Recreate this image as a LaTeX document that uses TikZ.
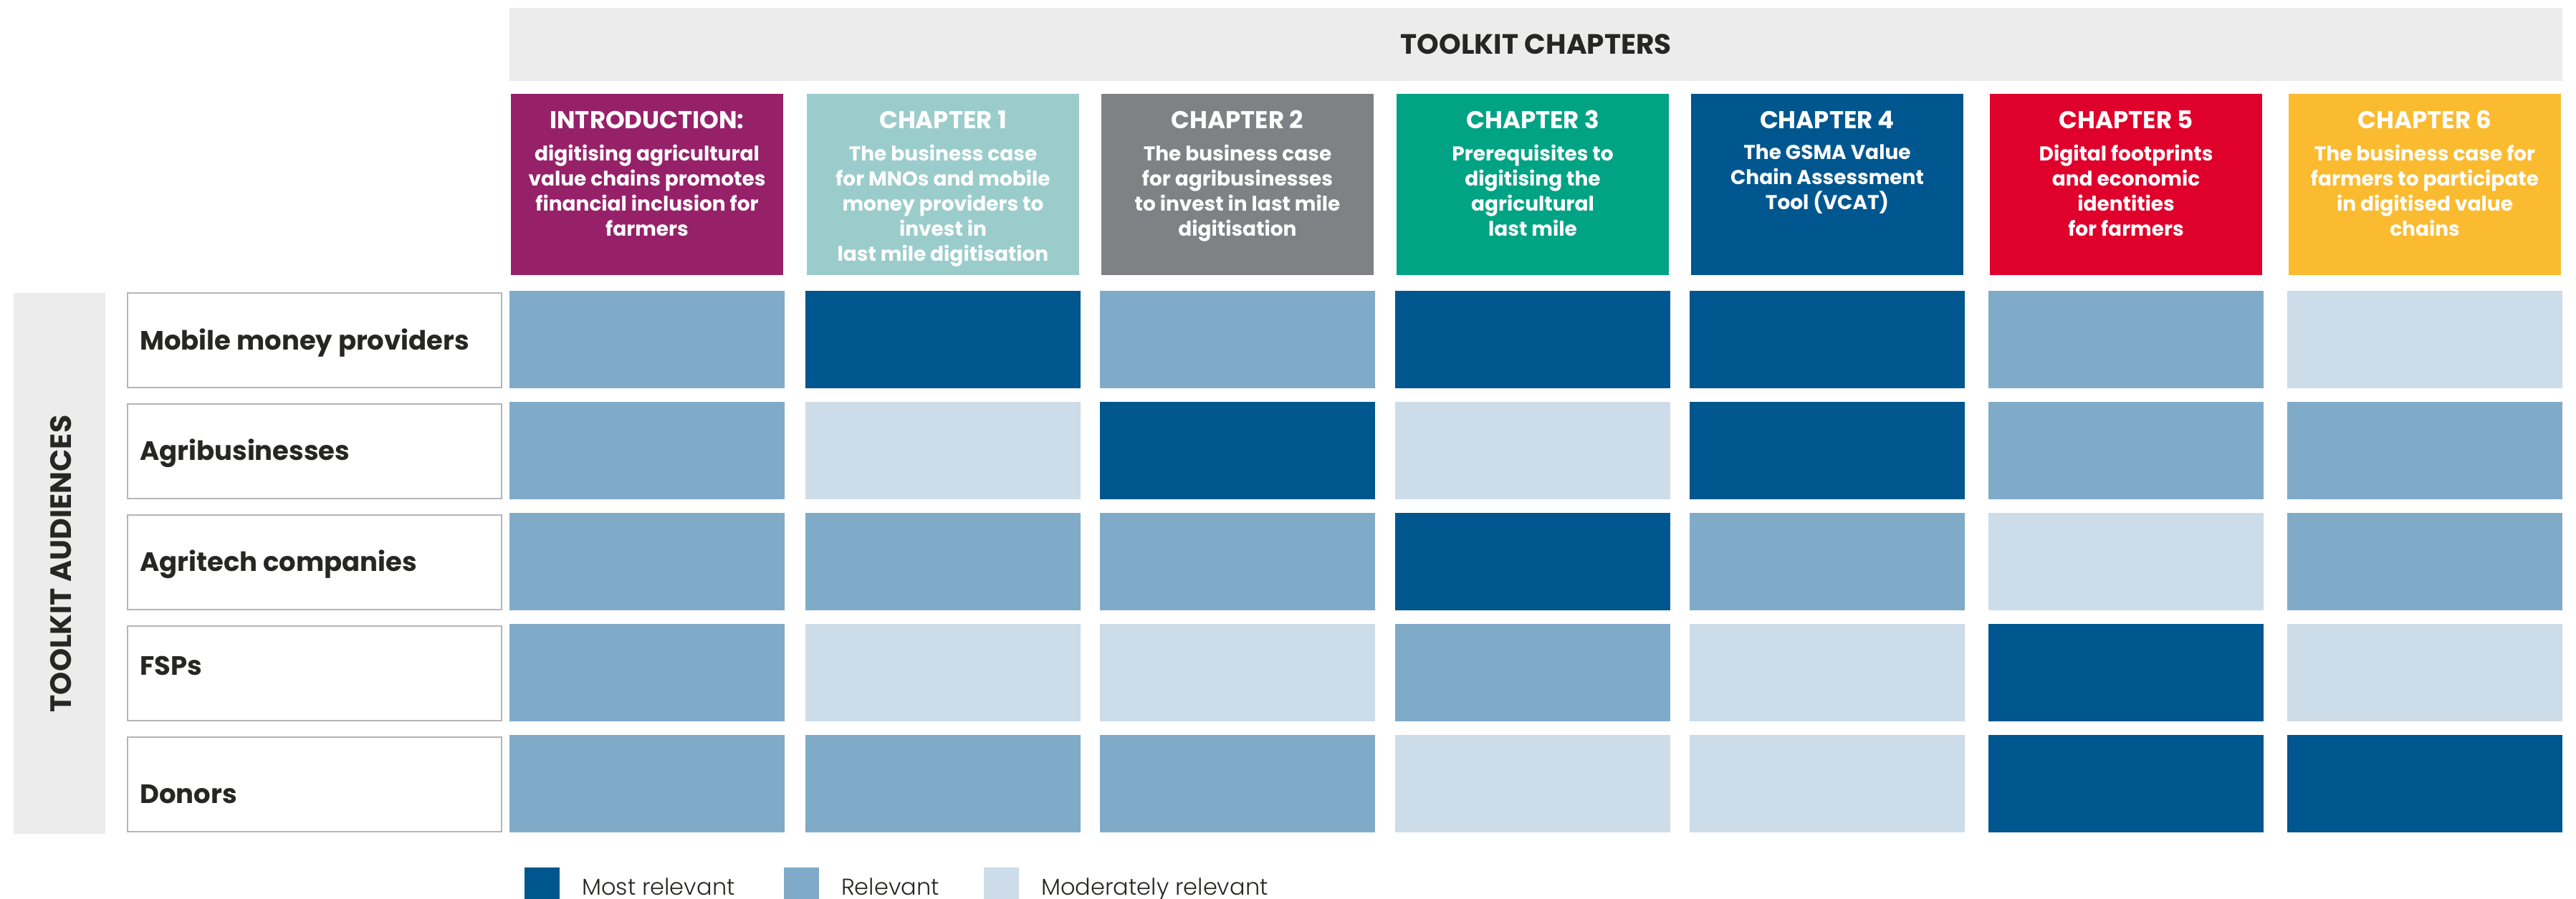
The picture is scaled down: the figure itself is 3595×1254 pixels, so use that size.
\documentclass[tikz,border=0pt]{standalone}
\usepackage{fontspec}
\setmainfont{Poppins}
\newfontfamily\legendfont{Poppins Light}

\definecolor{introcol}{RGB}{150,33,105}
\definecolor{chaponecol}{RGB}{155,204,204}
\definecolor{chaptwocol}{RGB}{128,129,132}
\definecolor{chapthreecol}{RGB}{0,163,132}
\definecolor{chapfourcol}{RGB}{0,87,143}
\definecolor{chapfivecol}{RGB}{223,0,43}
\definecolor{chapsixcol}{RGB}{251,187,48}
\definecolor{lvlM}{RGB}{0,86,142}
\definecolor{lvlR}{RGB}{128,171,200}
\definecolor{lvlD}{RGB}{204,220,232}
\definecolor{bannergray}{RGB}{236,236,236}
\definecolor{boxgray}{RGB}{181,181,181}
\definecolor{textdark}{RGB}{38,38,36}

\tikzset{
  banner/.style={fill=bannergray, inner sep=0pt, anchor=north west},
  headbox/.style={inner sep=0pt, minimum width=380pt, minimum height=253pt, anchor=north west},
  headtitle/.style={text=white, inner sep=0pt, anchor=base, font=\fontsize{34}{40}\selectfont\bfseries},
  headtext/.style={text=white, inner sep=0pt, anchor=north, align=center, font=\fontsize{28}{35}\selectfont\bfseries},
  cellbox/.style={inner sep=0pt, minimum width=384pt, minimum height=136pt, anchor=north west},
  audbox/.style={draw=boxgray, line width=2pt, fill=white, inner sep=0pt, minimum width=522pt, minimum height=132pt, anchor=north west},
  audtext/.style={text=textdark, inner sep=0pt, anchor=base west, font=\fontsize{37}{44}\selectfont\bfseries},
  keybox/.style={inner sep=0pt, minimum size=49pt, anchor=north west},
  keytext/.style={text=textdark, inner sep=0pt, anchor=base west, font=\fontsize{32}{38}\legendfont},
}

\def\colx{{711,1124,1535,1947,2358,2775,3192}}

\begin{document}
\begin{tikzpicture}[x=1pt,y=-1pt]
    \useasboundingbox (0,0) rectangle (3595,1254);
    % chapters banner
    \node[banner, minimum width=2865pt, minimum height=102pt, text=textdark,
          font=\fontsize{39}{46}\selectfont\bfseries] (chapters) at (711,11) {TOOLKIT CHAPTERS};
    % chapter headers
    \foreach \col/\title/\desc [count=\i from 0] in {
        introcol/INTRODUCTION:/{digitising agricultural\\value chains promotes\\financial inclusion for\\farmers},
        chaponecol/CHAPTER 1/{The business case\\for MNOs and mobile\\money providers to\\invest in\\last mile digitisation},
        chaptwocol/CHAPTER 2/{The business case\\for agribusinesses\\to invest in last mile\\digitisation},
        chapthreecol/CHAPTER 3/{Prerequisites to\\digitising the\\agricultural\\last mile},
        chapfourcol/CHAPTER 4/{The GSMA Value\\Chain Assessment\\Tool (VCAT)},
        chapfivecol/CHAPTER 5/{Digital footprints\\and economic\\identities\\for farmers},
        chapsixcol/CHAPTER 6/{The business case for\\farmers to participate\\in digitised value\\chains}}{
        \pgfmathsetmacro\cx{\colx[\i]}
        \node[headbox, fill=\col] (head\i) at (\cx+2,131) {};
        \node[headtitle] (title\i) at (\cx+192,179) {\title};
        \node[headtext] (desc\i) at (\cx+192,202) {\desc};
    }
    % audiences banner
    \node[banner, minimum width=128pt, minimum height=755pt] (audbar) at (19,409) {};
    \node[rotate=90, text=textdark, inner sep=0pt,
          font=\fontsize{41}{48}\selectfont\bfseries] (audiences) at (85,787) {TOOLKIT AUDIENCES};
    \foreach \name/\base [count=\r from 0] in {Mobile money providers/488, Agribusinesses/642,
        Agritech companies/797, FSPs/942, Donors/1121}{
        \node[audbox] (aud\r) at (177,408+155*\r) {};
        \node[audtext] (audname\r) at (195,\base) {\name};
    }
    % relevance grid (M most, R relevant, D moderately)
    \foreach \lvls [count=\r from 0] in {{R,M,R,M,M,R,D},{R,D,M,D,M,R,R},{R,R,R,M,R,D,R},
        {R,D,D,R,D,M,D},{R,R,R,D,D,M,M}}{
        \foreach \lv [count=\c from 0] in \lvls {
            \pgfmathsetmacro\cx{\colx[\c]}
            \node[cellbox, fill=lvl\lv] (cell\r\c) at (\cx,406+155*\r) {};
        }
    }
    % key
    \node[keybox, fill=lvlM] (keyM) at (732,1211) {};
    \node[keytext] (keyMtext) at (812,1249) {Most relevant};
    \node[keybox, fill=lvlR] (keyR) at (1094,1211) {};
    \node[keytext] (keyRtext) at (1174,1249) {Relevant};
    \node[keybox, fill=lvlD] (keyD) at (1373,1211) {};
    \node[keytext] (keyDtext) at (1453,1249) {Moderately relevant};
\end{tikzpicture}
\end{document}
